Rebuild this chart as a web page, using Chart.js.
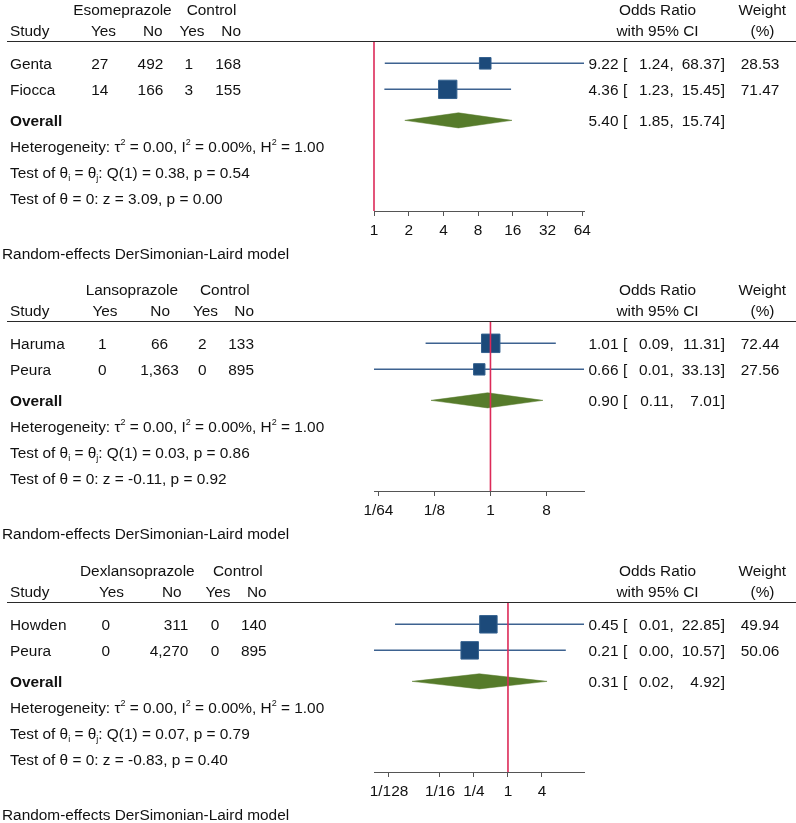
<!DOCTYPE html>
<html>
<head>
<meta charset="utf-8">
<script src="https://cdn.jsdelivr.net/npm/chart.js@4.4.1/dist/chart.umd.min.js"></script>
<style>
  html, body { margin: 0; padding: 0; background: #fff; }
  body { width: 796px; height: 823px; overflow: hidden; position: relative;
         font-family: "Liberation Sans", Arial, sans-serif; font-size: 15.4px; color: #111; }
  .panel { position: absolute; left: 0; width: 796px; height: 281px; }
  .panel canvas { position: absolute; left: 0; top: 0; }
  .t { position: absolute; white-space: nowrap; line-height: 1; }
  .b { font-weight: bold; }
  .rule { position: absolute; left: 7px; width: 789px; height: 1.4px; background: #2a2a2a; }
  sup, sub { font-size: 9px; position: relative; vertical-align: baseline; }
  sup { top: -7px; }
  sub { top: 3px; }
</style>
</head>
<body>
<div class="panel" id="p0"><canvas id="c0" width="796" height="281"></canvas></div>
<div class="panel" id="p1"><canvas id="c1" width="796" height="281"></canvas></div>
<div class="panel" id="p2"><canvas id="c2" width="796" height="281"></canvas></div>
<script>
// ---- Esomeprazole vs control
const esoStudies = ["Genta", "Fiocca"];
const esoTreatYes = [27, 14];
const esoTreatNo = [492, 166];
const esoCtrlYes = [1, 3];
const esoCtrlNo = [168, 155];
const esoOR = [9.22, 4.36];
const esoLower = [1.24, 1.23];
const esoUpper = [68.37, 15.45];
const esoWeight = [28.53, 71.47];
const esoOverall = [5.40, 1.85, 15.74];     // OR, lower, upper
const esoHet = [0.00, 0.00, 1.00];          // tau2, I2, H2
const esoTests = [0.38, 0.54, 3.09, 0.00];  // Q, p, z, p
const esoTicks = [1, 2, 4, 8, 16, 32, 64];
const esoTickLabels = ["1", "2", "4", "8", "16", "32", "64"];

// ---- Lansoprazole vs control
const lanStudies = ["Haruma", "Peura"];
const lanTreatYes = [1, 0];
const lanTreatNo = [66, 1363];
const lanCtrlYes = [2, 0];
const lanCtrlNo = [133, 895];
const lanOR = [1.01, 0.66];
const lanLower = [0.09, 0.01];
const lanUpper = [11.31, 33.13];
const lanWeight = [72.44, 27.56];
const lanOverall = [0.90, 0.11, 7.01];
const lanHet = [0.00, 0.00, 1.00];
const lanTests = [0.03, 0.86, -0.11, 0.92];
const lanTicks = [1 / 64, 1 / 8, 1, 8];
const lanTickLabels = ["1/64", "1/8", "1", "8"];

// ---- Dexlansoprazole vs control
const dexStudies = ["Howden", "Peura"];
const dexTreatYes = [0, 0];
const dexTreatNo = [311, 4270];
const dexCtrlYes = [0, 0];
const dexCtrlNo = [140, 895];
const dexOR = [0.45, 0.21];
const dexLower = [0.01, 0.003];
const dexUpper = [22.85, 10.57];
const dexWeight = [49.94, 50.06];
const dexOverall = [0.31, 0.02, 4.92];
const dexHet = [0.00, 0.00, 1.00];
const dexTests = [0.07, 0.79, -0.83, 0.40];
const dexTicks = [1 / 128, 1 / 16, 1 / 4, 1, 4];
const dexTickLabels = ["1/128", "1/16", "1/4", "1", "4"];

// layout (pixels inside one panel)
const PANEL_H = 281;
const PLOT_LEFT = 374, PLOT_RIGHT = 584, PLOT_TOP = 41.7, PLOT_BOTTOM = 211;
const ROWS = 6.5;                 // y scale in row units, 26 px each
const STUDY_ROW0 = 0.83, OVERALL_ROW = 3.02, NOTE_ROWS = [4.03, 5.02, 6.01];
const DIAMOND_HALF = 0.29;
const FONT = '"Liberation Sans", Arial, sans-serif';

const NAVY = "#1c4a7a", CI_BLUE = "#3d6290", GREEN = "#567b2b", NULL_RED = "#dc2a58";

const panels = [
  { drug: "Esomeprazole", studies: esoStudies, counts: [esoTreatYes, esoTreatNo, esoCtrlYes, esoCtrlNo],
    or: esoOR, lower: esoLower, upper: esoUpper, weight: esoWeight, overall: esoOverall,
    het: esoHet, tests: esoTests, ticks: esoTicks, tickLabels: esoTickLabels,
    top: 0, xMin: 1, xMax: 66.3, boxScale: 2.17,
    groupX: [73.3, 186.7],
    headX: [[103.5, "c"], [162.7, "r"], [192, "c"], [241, "r"]],
    colX: [[108.3, "r"], [163.3, "r"], [193, "r"], [241, "r"]] },
  { drug: "Lansoprazole", studies: lanStudies, counts: [lanTreatYes, lanTreatNo, lanCtrlYes, lanCtrlNo],
    or: lanOR, lower: lanLower, upper: lanUpper, weight: lanWeight, overall: lanOverall,
    het: lanHet, tests: lanTests, ticks: lanTicks, tickLabels: lanTickLabels,
    top: 280, xMin: 0.01326, xMax: 32.2, boxScale: 2.17,
    groupX: [85.7, 200],
    headX: [[105, "c"], [170, "r"], [205.5, "c"], [254, "r"]],
    colX: [[106.5, "r"], [159.5, "c"], [206.5, "r"], [254, "r"]] },
  { drug: "Dexlansoprazole", studies: dexStudies, counts: [dexTreatYes, dexTreatNo, dexCtrlYes, dexCtrlNo],
    or: dexOR, lower: dexLower, upper: dexUpper, weight: dexWeight, overall: dexOverall,
    het: dexHet, tests: dexTests, ticks: dexTicks, tickLabels: dexTickLabels,
    top: 561, xMin: 0.00424, xMax: 22.2, boxScale: 2.47,
    groupX: [80, 213],
    headX: [[111.5, "c"], [181.7, "r"], [218, "c"], [266.7, "r"]],
    colX: [[110, "r"], [188.3, "r"], [219.3, "r"], [266.7, "r"]] },
];

function addText(box, html, x, y, align, cls) {
  const el = document.createElement("div");
  el.className = "t" + (cls ? " " + cls : "");
  el.innerHTML = html;
  el.style.left = x + "px";
  el.style.top = y + "px";
  const tx = align === "r" ? "-100%" : align === "c" ? "-50%" : "0";
  el.style.transform = `translate(${tx}, -50%)`;
  box.appendChild(el);
}

function f2(v) { return v.toFixed(2); }

function buildPanel(p, idx) {
  const box = document.getElementById("p" + idx);
  box.style.top = p.top + "px";
  const rows = p.studies.map((_, i) => STUDY_ROW0 + i);

  const datasets = [];
  // null line at OR = 1 (drawn on top)
  datasets.push({ type: "line", data: [{ x: 1, y: 0 }, { x: 1, y: ROWS }], clip: 3,
    borderColor: NULL_RED, borderWidth: 1.6, pointRadius: 0 });
  // study squares
  datasets.push({ type: "scatter", data: p.or.map((v, i) => ({ x: v, y: rows[i] })),
    pointStyle: "rect", backgroundColor: NAVY, borderColor: "#34618f", borderWidth: 1,
    pointRadius: p.weight.map(w => p.boxScale * Math.sqrt(w) / Math.SQRT2) });
  // confidence intervals
  p.studies.forEach((_, i) => {
    datasets.push({ type: "line", data: [{ x: p.lower[i], y: rows[i] }, { x: p.upper[i], y: rows[i] }],
      borderColor: CI_BLUE, borderWidth: 1.5, pointRadius: 0 });
  });
  // overall diamond
  const [est, lo, hi] = p.overall;
  datasets.push({ type: "line",
    data: [{ x: lo, y: OVERALL_ROW }, { x: est, y: OVERALL_ROW - DIAMOND_HALF },
           { x: hi, y: OVERALL_ROW }, { x: est, y: OVERALL_ROW + DIAMOND_HALF },
           { x: lo, y: OVERALL_ROW }],
    borderColor: GREEN, backgroundColor: GREEN, borderWidth: 0.5, pointRadius: 0, fill: "shape" });

  const chart = new Chart(document.getElementById("c" + idx), {
    type: "scatter",
    data: { datasets },
    options: {
      responsive: false, animation: false, events: [],
      layout: { padding: { left: PLOT_LEFT, right: 796 - PLOT_RIGHT, top: PLOT_TOP, bottom: PANEL_H - PLOT_BOTTOM - 40 } },
      plugins: { legend: { display: false }, tooltip: { enabled: false } },
      scales: {
        x: {
          type: "logarithmic", min: p.xMin, max: p.xMax,
          afterBuildTicks: s => { s.ticks = p.ticks.map(v => ({ value: v })); },
          afterFit: s => { s.height = 40; },
          ticks: { autoSkip: false, maxRotation: 0, padding: 6, color: "#111",
                   font: { family: FONT, size: 15.4 },
                   callback: (v, i) => p.tickLabels[i] },
          grid: { drawOnChartArea: false, drawTicks: true, tickLength: 5, color: "#555", lineWidth: 1 },
          border: { display: true, color: "#555", width: 1 }
        },
        y: { type: "linear", reverse: true, min: 0, max: ROWS, display: false }
      }
    }
  });

  const ys = chart.scales.y;
  const yRow = r => ys.getPixelForValue(r) + 0.5;

  // header
  addText(box, p.drug, p.groupX[0], 9.5, "l");
  addText(box, "Control", p.groupX[1], 9.5, "l");
  addText(box, "Study", 10, 31, "l");
  ["Yes", "No", "Yes", "No"].forEach((h, c) => addText(box, h, p.headX[c][0], 31, p.headX[c][1]));
  addText(box, "Odds Ratio", 657.5, 9.5, "c");
  addText(box, "with 95% CI", 657.5, 31, "c");
  addText(box, "Weight", 762.3, 9.5, "c");
  addText(box, "(%)", 762.5, 31, "c");
  const rule = document.createElement("div");
  rule.className = "rule";
  rule.style.top = (PLOT_TOP - 0.7) + "px";
  box.appendChild(rule);

  // study rows
  p.studies.forEach((name, i) => {
    const y = yRow(rows[i]);
    addText(box, name, 10, y, "l");
    p.counts.forEach((col, c) => addText(box, col[i].toLocaleString("en-US"), p.colX[c][0], y, p.colX[c][1]));
    addText(box, f2(p.or[i]), 618.5, y, "r");
    addText(box, "[", 623, y, "l");
    addText(box, f2(p.lower[i]), 669, y, "r");
    addText(box, ",", 669.5, y, "l");
    addText(box, f2(p.upper[i]), 720.3, y, "r");
    addText(box, "]", 720.8, y, "l");
    addText(box, f2(p.weight[i]), 779.3, y, "r");
  });

  // overall row
  const yo = yRow(OVERALL_ROW);
  addText(box, "Overall", 10, yo, "l", "b");
  addText(box, f2(est), 618.5, yo, "r");
  addText(box, "[", 623, yo, "l");
  addText(box, f2(lo), 669, yo, "r");
  addText(box, ",", 669.5, yo, "l");
  addText(box, f2(hi), 720.3, yo, "r");
  addText(box, "]", 720.8, yo, "l");

  // heterogeneity and tests
  addText(box, `Heterogeneity: τ<sup>2</sup> = ${f2(p.het[0])}, I<sup>2</sup> = ${f2(p.het[1])}%, H<sup>2</sup> = ${f2(p.het[2])}`,
    10, yRow(NOTE_ROWS[0]), "l");
  addText(box, `Test of θ<sub>i</sub> = θ<sub>j</sub>: Q(1) = ${f2(p.tests[0])}, p = ${f2(p.tests[1])}`,
    10, yRow(NOTE_ROWS[1]), "l");
  addText(box, `Test of θ = 0: z = ${f2(p.tests[2])}, p = ${f2(p.tests[3])}`,
    10, yRow(NOTE_ROWS[2]), "l");
  addText(box, "Random-effects DerSimonian-Laird model", 2, 254, "l");
}

panels.forEach(buildPanel);
</script>
</body>
</html>
